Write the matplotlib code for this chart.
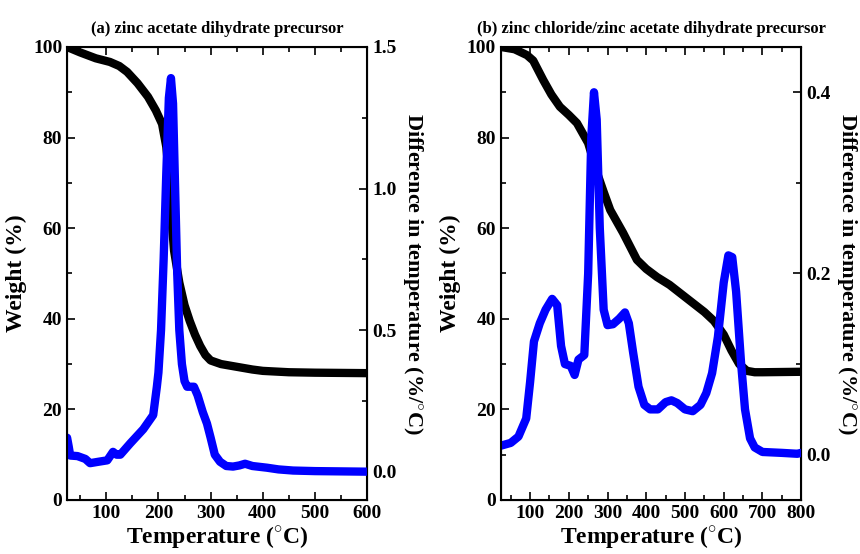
import matplotlib
matplotlib.use("Agg")
import matplotlib.pyplot as plt
from matplotlib.ticker import MultipleLocator

plt.rcParams['font.family'] = ['Liberation Serif', 'DejaVu Serif']
plt.rcParams['font.weight'] = 'bold'
plt.rcParams['axes.labelweight'] = 'bold'
plt.rcParams['axes.titleweight'] = 'bold'
plt.rcParams['mathtext.fontset'] = 'custom'
plt.rcParams['mathtext.rm'] = 'Liberation Serif:bold'
plt.rcParams['mathtext.bf'] = 'Liberation Serif:bold'

# (a) zinc acetate dihydrate precursor
temp_a_weight = [25, 50, 80, 107, 125, 140, 160, 180, 195, 207, 215, 220, 225, 230, 240,
                 250, 260, 270, 280, 290, 300, 320, 340, 360, 380, 400, 450, 500, 600]
weight_a = [100, 98.8, 97.5, 96.7, 95.8, 94.5, 92, 89, 86, 83, 78, 72, 62, 55, 48,
            43, 39.5, 36.5, 34, 32, 30.8, 30, 29.6, 29.2, 28.8, 28.5, 28.2, 28.1, 28]
temp_a_diff = [25, 28, 31, 45, 60, 69, 85, 102, 113, 120, 127, 146, 171, 190, 197,
               200, 205, 210, 215, 220, 224, 228, 232, 236, 240, 245, 250, 255, 262,
               268, 275, 285, 293, 300, 308, 318, 330, 343, 355, 366, 380, 408, 430,
               458, 500, 600]
diff_a = [0.12, 0.09, 0.057, 0.055, 0.045, 0.03, 0.035, 0.04, 0.07, 0.06, 0.06, 0.10, 0.15, 0.2, 0.3,
          0.35, 0.5, 0.75, 1.05, 1.32, 1.39, 1.3, 1.0, 0.7, 0.5, 0.38, 0.32, 0.30, 0.30,
          0.30, 0.27, 0.21, 0.17, 0.12, 0.06, 0.035, 0.02, 0.018, 0.022, 0.028, 0.02, 0.014, 0.008,
          0.004, 0.002, 0.0]

# (b) zinc chloride/zinc acetate dihydrate precursor
temp_b_weight = [25, 60, 92, 108, 134, 155, 177, 200, 221, 250, 273, 290, 307, 340, 376,
                 400, 428, 460, 487, 520, 550, 575, 600, 620, 640, 660, 680, 700, 800]
weight_b = [100, 99.5, 98.2, 97, 92.7, 89.5, 86.8, 85, 83.2, 78.8, 72.2, 68, 64, 59, 53,
            51, 49.2, 47.5, 45.7, 43.5, 41.5, 39.5, 36.5, 33, 30, 28.5, 28.2, 28.2, 28.3]
temp_b_diff = [25, 50, 70, 90, 100, 110, 125, 140, 157, 170, 180, 190, 205, 215, 225,
               240, 250, 258, 265, 272, 280, 290, 300, 314, 330, 345, 355, 366, 380,
               395, 410, 430, 450, 465, 480, 500, 520, 540, 555, 570, 585, 600, 612,
               622, 632, 645, 655, 668, 680, 700, 750, 790, 800]
diff_b = [0.01, 0.013, 0.02, 0.04, 0.08, 0.125, 0.145, 0.16, 0.172, 0.165, 0.12, 0.1, 0.098, 0.088, 0.105,
          0.11, 0.2, 0.35, 0.40, 0.37, 0.25, 0.16, 0.143, 0.144, 0.15, 0.157, 0.145, 0.113, 0.075,
          0.055, 0.05, 0.05, 0.058, 0.06, 0.057, 0.05, 0.048, 0.055, 0.068, 0.09, 0.13, 0.19, 0.22,
          0.218, 0.18, 0.1, 0.05, 0.018, 0.008, 0.003, 0.002, 0.001, 0.002]

DEG = r'$^{\circ}$'


def draw_panel(rect, title, t_w, w, t_d, d, xmax, ylim2, major2, minor2):
    ax = fig.add_axes(rect)
    ax2 = ax.twinx()
    ax.plot(t_w, w, color='black', linewidth=6, solid_capstyle='round')
    ax2.plot(t_d, d, color='#0000ff', linewidth=6, solid_capstyle='round')

    ax.set_xlim(25, xmax)
    ax.set_ylim(0, 100)
    ax2.set_ylim(*ylim2)
    ax.xaxis.set_major_locator(MultipleLocator(100))
    ax.xaxis.set_minor_locator(MultipleLocator(50))
    ax.yaxis.set_major_locator(MultipleLocator(20))
    ax.yaxis.set_minor_locator(MultipleLocator(10))
    ax2.yaxis.set_major_locator(MultipleLocator(major2))
    ax2.yaxis.set_minor_locator(MultipleLocator(minor2))
    ax2.yaxis.set_major_formatter(plt.FormatStrFormatter('%.1f'))

    ax.tick_params(which='both', direction='in', top=True, labelsize=14, width=1.2)
    ax.tick_params(which='major', length=6)
    ax.tick_params(which='minor', length=3.5)
    ax2.tick_params(which='both', direction='in', labelsize=14, width=1.2)
    ax2.tick_params(which='major', length=6)
    ax2.tick_params(which='minor', length=3.5)
    for sp in ax.spines.values():
        sp.set_linewidth(1.5)

    ax.set_xlabel('Temperature (' + DEG + 'C)', fontsize=17, labelpad=2)
    ax.set_ylabel('Weight (%)', fontsize=17, labelpad=4)
    ax2.set_ylabel('Difference in temperature (%/' + DEG + 'C)', fontsize=16,
                   rotation=270, labelpad=20)
    ax.set_title(title, fontsize=12, pad=10)
    return ax, ax2


fig = plt.figure(figsize=(8.6, 5.54), dpi=100)

draw_panel([0.078, 0.0975, 0.349, 0.8177], '(a) zinc acetate dihydrate precursor',
           temp_a_weight, weight_a, temp_a_diff, diff_a, 600, (-0.1, 1.5), 0.5, 0.25)
draw_panel([0.5826, 0.0975, 0.349, 0.8177], '(b) zinc chloride/zinc acetate dihydrate precursor',
           temp_b_weight, weight_b, temp_b_diff, diff_b, 800, (-0.05, 0.45), 0.2, 0.1)

fig.savefig('out.png', dpi=100)
